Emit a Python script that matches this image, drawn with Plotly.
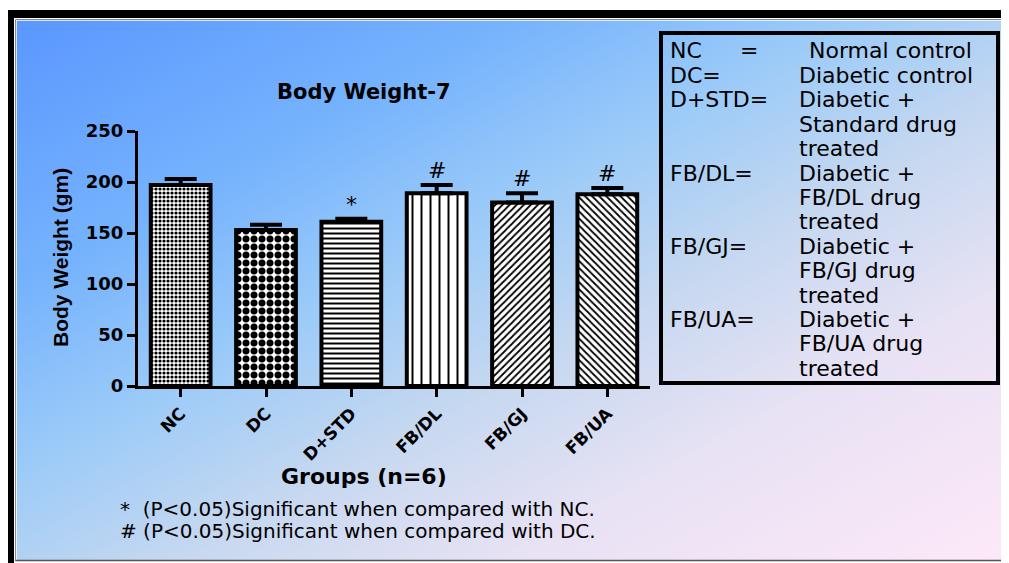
import base64
import plotly.graph_objects as go

groups = ["NC", "DC", "D+STD", "FB/DL", "FB/GJ", "FB/UA"]
means = [197, 153, 161, 189, 180, 188]
sems = [6, 5, 3, 8, 9, 6]
marks = ["", "", "*", "#", "#", "#"]
patterns = [".", ".", "-", "|", "/", "\\"]
pattern_sizes = [4, 8, 5, 9, 5, 5]
pattern_solid = [0.5, 0.6, 0.4, 0.22, 0.35, 0.35]
y_ticks = [0, 50, 100, 150, 200, 250]

legend_rows = [
    ("NC", "Normal control"),
    ("DC=", "Diabetic control"),
    ("D+STD=", "Diabetic +"),
    ("", "Standard drug"),
    ("", "treated"),
    ("FB/DL=", "Diabetic +"),
    ("", "FB/DL drug"),
    ("", "treated"),
    ("FB/GJ=", "Diabetic +"),
    ("", "FB/GJ drug"),
    ("", "treated"),
    ("FB/UA=", "Diabetic +"),
    ("", "FB/UA drug"),
    ("", "treated"),
]
footnotes = [
    "*  (P<0.05)Significant when compared with NC.",
    "# (P<0.05)Significant when compared with DC.",
]

OFF = 8  # page body margin
W, H = 1009 - OFF, 563 - OFF
FONT = "DejaVu Sans, sans-serif"
FONT_B = "DejaVu Sans, sans-serif"


def px(x):
    return (x - OFF) / W


def py(y):
    return 1 - (y - OFF) / H


fig = go.Figure()
fig.add_trace(go.Bar(
    x=groups, y=means, width=0.7,
    marker=dict(
        color="white",
        line=dict(color="black", width=4),
        pattern=dict(shape=patterns, size=pattern_sizes, solidity=pattern_solid,
                     fgcolor="black", bgcolor="white", fillmode="replace"),
    ),
    error_y=dict(type="data", symmetric=False, array=sems,
                 arrayminus=[0] * len(sems), color="black", thickness=4, width=16),
    showlegend=False,
))

annotations = []
for g, m, s, mk in zip(groups, means, sems, marks):
    if mk:
        annotations.append(dict(x=g, y=m + s, xref="x", yref="y", text=mk,
                                showarrow=False, yanchor="bottom", yshift=0,
                                font=dict(family=FONT, size=22, color="black")))


def ann(x, y, text, size, xanchor="center", bold=False, angle=0):
    annotations.append(dict(x=px(x), y=py(y), xref="paper", yref="paper",
                            text=f"<b>{text}</b>" if bold else text,
                            showarrow=False, xanchor=xanchor, yanchor="middle",
                            textangle=angle,
                            font=dict(family=FONT_B if bold else FONT, size=size,
                                      color="black")))


ann(364, 92, "Body Weight-7", 21, bold=True)
annotations.append(dict(x=px(60), y=py(258), xref="paper", yref="paper",
                        text="<b>Body Weight (gm)</b>", showarrow=False, textangle=-90,
                        xanchor="center", yanchor="middle",
                        font=dict(family="Liberation Sans, Arial, sans-serif", size=21,
                                  color="black")))
ann(364, 476, "Groups (n=6)", 22, bold=True)
for i, t in enumerate(footnotes):
    ann(118, 509 + 22 * i, t, 20, xanchor="left")

for i, (left, right) in enumerate(legend_rows):
    yy = 51 + 24.4 * i
    if left:
        ann(668, yy, left, 22, xanchor="left")
    ann(807 if i == 0 else 797, yy, right, 22, xanchor="left")
ann(738, 51, "=", 22, xanchor="left")

shapes = [
    dict(type="rect", xref="paper", yref="paper", x0=px(661), x1=px(998),
         y0=py(383), y1=py(33), line=dict(color="black", width=4)),
    dict(type="rect", xref="paper", yref="paper", x0=0, x1=px(14), y0=0, y1=py(10),
         fillcolor="black", line=dict(width=0)),
    dict(type="rect", xref="paper", yref="paper", x0=0, x1=1, y0=py(18), y1=py(10),
         fillcolor="black", line=dict(width=0)),
    dict(type="line", xref="paper", yref="paper", x0=px(15.5), x1=px(15.5), y0=py(561),
         y1=py(19.5), line=dict(color="#888888", width=1)),
    dict(type="line", xref="paper", yref="paper", x0=px(15.5), x1=1, y0=py(19.5),
         y1=py(19.5), line=dict(color="#888888", width=1)),
    dict(type="line", xref="paper", yref="paper", x0=px(15.5), x1=1, y0=py(560.5),
         y1=py(560.5), line=dict(color="#555555", width=1.5)),
]

svg = """<svg xmlns='http://www.w3.org/2000/svg' width='1000' height='545' preserveAspectRatio='none'>
<defs><linearGradient id='g' x1='0' y1='0' x2='1' y2='1'>
<stop offset='0' stop-color='#5A97FF'/>
<stop offset='0.25' stop-color='#76B3FD'/>
<stop offset='0.42' stop-color='#9CCBF8'/>
<stop offset='0.58' stop-color='#C6D8F0'/>
<stop offset='0.75' stop-color='#E8E2F4'/>
<stop offset='1' stop-color='#FDE8F8'/>
</linearGradient></defs>
<rect width='1000' height='545' fill='url(#g)'/></svg>"""
src = "data:image/svg+xml;base64," + base64.b64encode(svg.encode()).decode()

fig.update_layout(
    width=W, height=H,
    margin=dict(l=0, r=0, t=0, b=0),
    paper_bgcolor="white", plot_bgcolor="rgba(0,0,0,0)",
    images=[dict(source=src, xref="paper", yref="paper", x=px(16.5), y=py(20.5),
                 sizex=1 - px(16.5), sizey=py(20.5) - py(560), sizing="stretch",
                 xanchor="left", yanchor="top", layer="below")],
    shapes=shapes,
    annotations=annotations,
    xaxis=dict(domain=[px(138), px(650)], showgrid=False, showline=True,
               linecolor="black", linewidth=3, ticks="outside", ticklen=8,
               tickwidth=3, tickcolor="black", tickangle=-45,
               tickfont=dict(family=FONT_B, size=17, color="black", weight="bold"),
               automargin=False),
    yaxis=dict(domain=[py(386), py(131)], range=[0, 250], tickvals=y_ticks,
               showgrid=False, showline=True, linecolor="black", linewidth=3,
               ticks="outside", ticklen=8, tickwidth=3, tickcolor="black",
               zeroline=False,
               tickfont=dict(family=FONT_B, size=18, color="black", weight="bold"),
               automargin=False),
)

fig.write_html("out.html")
